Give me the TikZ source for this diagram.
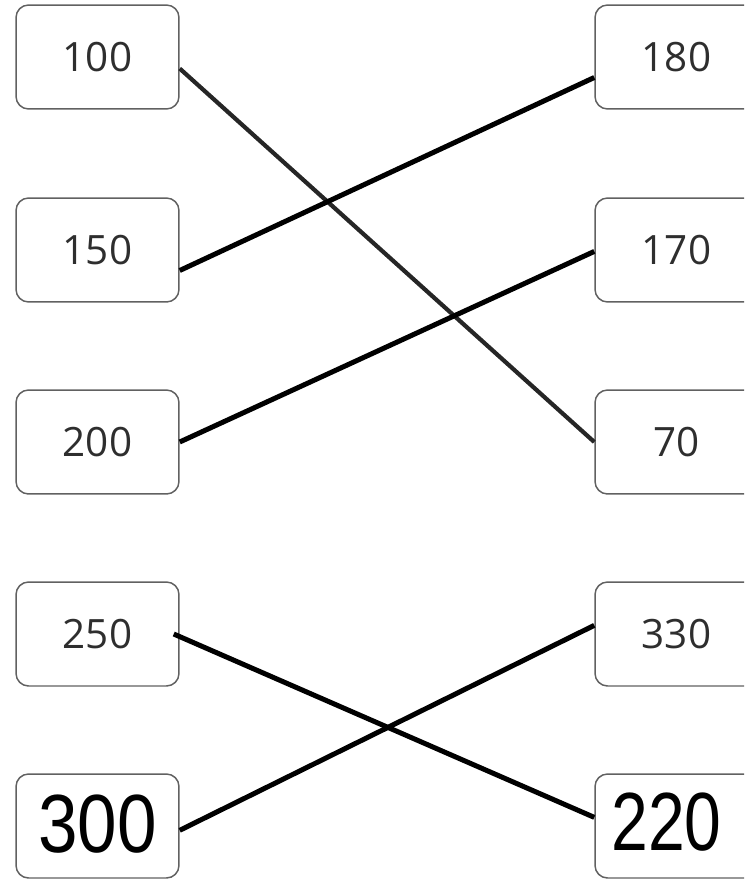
\documentclass[tikz,border=0pt]{standalone}
\usepackage{fontspec}
\usepackage{graphicx}
\setmainfont{Open Sans}
\newfontfamily\bigfont{Liberation Sans}
\begin{document}
\begin{tikzpicture}[x=0.02cm,y=-0.02cm]
\tikzstyle{every node}+=[inner sep=0pt]
\tikzstyle{numbox}=[draw=black!62, line width=0.85pt, rounded corners=0.25cm, minimum width=3.26cm, minimum height=2.08cm, text=black!82, font=\fontsize{23}{27}\selectfont]
\tikzstyle{bignum}=[text=black, font=\bigfont\fontsize{47}{52}\selectfont]
\tikzstyle{link}=[line width=2.85pt, black]
\path [use as bounding box, clip] (0,0) rectangle (744,879);
\node [numbox] (n100) at (97.5,57) {100};
\node [numbox] (n150) at (97.5,250) {150};
\node [numbox] (n200) at (97.5,442) {200};
\node [numbox] (n250) at (97.5,634) {250};
\node [numbox,bignum] (n300) at (97.5,826) {\raisebox{3pt}{\scalebox{0.86}[1]{300}}};
\node [numbox] (n180) at (676.5,57) {180};
\node [numbox] (n170) at (676.5,250) {170};
\node [numbox] (n70) at (676.5,442) {70};
\node [numbox] (n330) at (676.5,634) {330};
\node [numbox,bignum] (n220) at (676.5,826) {\hspace*{-0.4cm}\raisebox{5pt}{\scalebox{0.8}[1]{220}}};
\draw [link, line width=2.4pt, black!85] (n100.-8) -- (n70.west);
\draw [link] (n150.-14) -- (n180.194);
\draw [link] (n200.east) -- (n170.181);
\draw [link] ([xshift=-0.12cm]n250.east) -- (n220.174);
\draw [link] (n300.-3) -- (n330.174);
\end{tikzpicture}
\end{document}
